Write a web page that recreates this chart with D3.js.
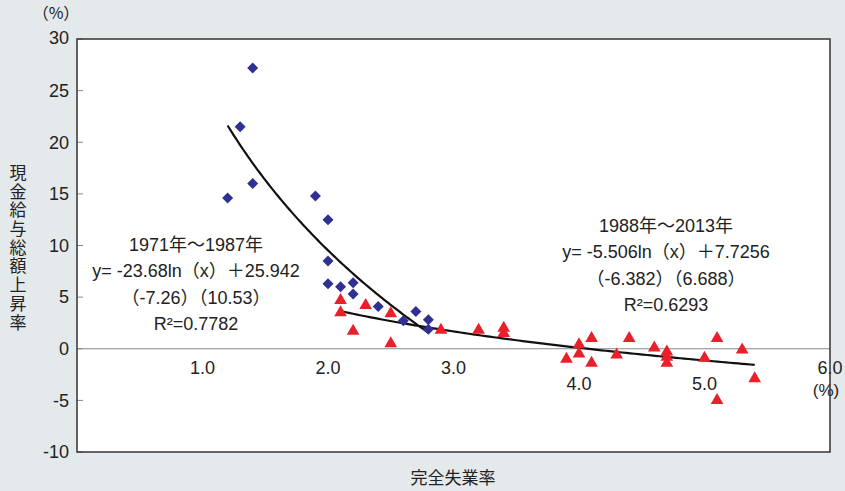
<!DOCTYPE html>
<html>
<head>
<meta charset="utf-8">
<script src="https://cdn.jsdelivr.net/npm/d3@7/dist/d3.min.js"></script>
<style>
  body { margin: 0; background: #e4e9ec; }
  text { font-family: "Liberation Sans", Arial, "Noto Sans CJK JP", sans-serif; fill: #222; }
  .jp { font-family: "Noto Sans CJK JP", sans-serif; }
</style>
</head>
<body>
<svg id="paper"></svg>
<script>
// 1971-1987 (blue diamonds): unemployment rate, wage growth
let earlyX = [1.4, 1.3, 1.4, 1.2, 1.9, 2.0, 2.0, 2.0, 2.1, 2.2, 2.2, 2.4, 2.6, 2.7, 2.8, 2.8];
let earlyY = [27.2, 21.5, 16.0, 14.6, 14.8, 12.5, 8.5, 6.3, 6.0, 6.4, 5.3, 4.1, 2.7, 3.6, 2.8, 1.9];

// 1988-2013 (red triangles)
let lateX = [2.1, 2.1, 2.2, 2.3, 2.5, 2.5, 2.9, 3.2, 3.4, 3.4, 3.9, 4.0, 4.0, 4.1, 4.1, 4.3,
             4.4, 4.6, 4.7, 4.7, 4.7, 5.0, 5.1, 5.3, 5.4, 5.1];
let lateY = [4.7, 3.5, 1.7, 4.2, 3.4, 0.5, 1.8, 1.8, 2.0, 1.5, -1.0, 0.4, -0.5, 1.0, -1.4, -0.6,
             1.0, 0.1, -0.3, -0.8, -1.4, -0.9, 1.0, -0.1, -2.9, -5.0];

// log trend lines: a*ln(x)+b over [from, to]
let earlyFit = {a: -23.68, b: 25.942, from: 1.2, to: 2.8};
let lateFit = {a: -5.506, b: 7.7256, from: 2.1, to: 5.4};

let xTicks = [1, 2, 3, 4, 5, 6];
let yTicks = [-10, -5, 0, 5, 10, 15, 20, 25, 30];

let earlyLabel = ["1971年～1987年", "y= -23.68ln（x）＋25.942", "（-7.26）（10.53）", "R²=0.7782"];
let lateLabel = ["1988年～2013年", "y= -5.506ln（x）＋7.7256", "（-6.382）（6.688）", "R²=0.6293"];
let yTitle = "現金給与総額上昇率";
let xTitle = "完全失業率";

let W = 845, H = 491;
let margin = {top: 39, right: 15, bottom: 39, left: 77},
    width = W - margin.left - margin.right,
    height = H - margin.top - margin.bottom;

let svg = d3.select("#paper").attr("width", W).attr("height", H),
    g = svg.append("g").attr("transform", "translate(" + margin.left + "," + margin.top + ")");

let x = d3.scaleLinear().domain([0, 6]).range([0, width]);
let y = d3.scaleLinear().domain([-10, 30]).range([height, 0]);

g.append("rect").attr("width", width).attr("height", height).attr("fill", "#fff");

// zero line
g.append("line")
    .attr("x1", 0).attr("x2", width)
    .attr("y1", y(0)).attr("y2", y(0))
    .attr("stroke", "#888").attr("stroke-width", 1.2);

// y ticks (inside) and labels
g.selectAll(".ytick")
    .data(yTicks)
    .enter()
    .append("line")
    .attr("x1", 0).attr("x2", 6)
    .attr("y1", d => y(d)).attr("y2", d => y(d))
    .attr("stroke", "#888");

g.selectAll(".ylabel")
    .data(yTicks)
    .enter()
    .append("text")
    .attr("x", -8)
    .attr("y", d => y(d))
    .attr("dy", d => d == 30 ? "0.25em" : "0.35em")
    .style("text-anchor", "end")
    .style("font-size", "18px")
    .text(d => d);

// x labels (4.0 and 5.0 sit lower in the original)
g.selectAll(".xlabel")
    .data(xTicks)
    .enter()
    .append("text")
    .attr("x", d => x(d))
    .attr("y", d => y(0) + ((d == 4 || d == 5) ? 41 : 25))
    .style("text-anchor", "middle")
    .style("font-size", "18px")
    .text(d => d.toFixed(1));

g.append("text")
    .attr("x", x(6) - 4)
    .attr("y", y(0) + 47)
    .style("text-anchor", "middle")
    .style("font-size", "17px")
    .text("(%)");

svg.append("text")
    .attr("class", "jp")
    .attr("x", 56)
    .attr("y", 19)
    .style("text-anchor", "middle")
    .style("font-size", "16px")
    .text("（%）");

// frame
g.append("rect").attr("width", width).attr("height", height)
    .attr("fill", "none").attr("stroke", "#333").attr("stroke-width", 1.5);

// trend lines
function fitLine(f) {
    let xs = d3.range(0, 101).map(i => f.from + (f.to - f.from) * i / 100);
    return d3.line()
        .x(d => x(d))
        .y(d => y(f.a * Math.log(d) + f.b))(xs);
}
[earlyFit, lateFit].forEach(f => {
    g.append("path")
        .attr("d", fitLine(f))
        .attr("fill", "none")
        .attr("stroke", "#111")
        .attr("stroke-width", 2.2);
});

// red triangles
g.selectAll(".late")
    .data(lateX.map((d, i) => [d, lateY[i]]))
    .enter()
    .append("path")
    .attr("d", d3.symbol().type(d3.symbolTriangle).size(70))
    .attr("transform", d => "translate(" + x(d[0]) + "," + y(d[1]) + ")")
    .attr("fill", "#e8202a");

// blue diamonds
g.selectAll(".early")
    .data(earlyX.map((d, i) => [d, earlyY[i]]))
    .enter()
    .append("path")
    .attr("d", "M0,-5.5L5.5,0L0,5.5L-5.5,0Z")
    .attr("transform", d => "translate(" + x(d[0]) + "," + y(d[1]) + ")")
    .attr("fill", "#2e3192");

// annotations
function addLabel(lines, cx, top) {
    svg.selectAll(null)
        .data(lines)
        .enter()
        .append("text")
        .attr("x", cx)
        .attr("y", (d, i) => top + i * 26.4)
        .style("text-anchor", "middle")
        .style("font-size", "18px")
        .text(d => d);
}
addLabel(earlyLabel, 196, 251);
addLabel(lateLabel, 666, 232);

// axis titles
svg.append("text")
    .attr("class", "jp")
    .attr("x", 18)
    .attr("y", 164)
    .style("writing-mode", "vertical-rl")
    .style("font-size", "17px")
    .style("letter-spacing", "1.7px")
    .text(yTitle);

svg.append("text")
    .attr("class", "jp")
    .attr("x", 453)
    .attr("y", 484)
    .style("text-anchor", "middle")
    .style("font-size", "17px")
    .text(xTitle);
</script>
</body>
</html>
